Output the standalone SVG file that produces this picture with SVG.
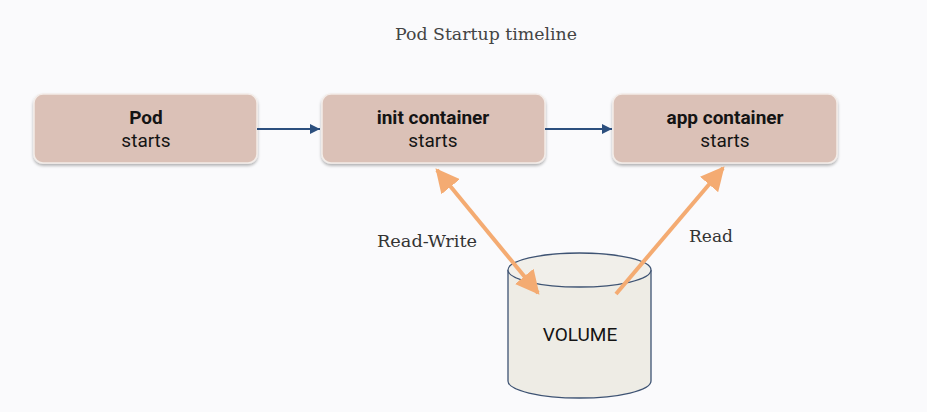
<svg xmlns="http://www.w3.org/2000/svg" width="927" height="412" viewBox="0 0 927 412">
  <defs>
    <filter id="shadow" x="-10%" y="-20%" width="120%" height="150%">
      <feDropShadow dx="0" dy="2" stdDeviation="1.5" flood-color="#000" flood-opacity="0.3"/>
    </filter>
    <marker id="blueHead" viewBox="0 0 10 10" refX="10" refY="5" markerWidth="10" markerHeight="10" markerUnits="userSpaceOnUse" orient="auto">
      <path d="M0,0 L10,5 L0,10 z" fill="#2c4f7e"/>
    </marker>
    <marker id="orangeHead" viewBox="0 0 10 10" refX="9" refY="5" markerWidth="6" markerHeight="6" orient="auto-start-reverse">
      <path d="M0,0 L10,5 L0,10 z" fill="#f4ab72"/>
    </marker>
  </defs>
  <style>
    .box { fill: #dbc1b7; stroke: #f3ece8; stroke-width: 1.5; filter: url(#shadow); }
    .title { font-family: "DejaVu Serif", "Liberation Serif", serif; font-size: 17px; fill: #444; }
    .label { font-family: "DejaVu Serif", "Liberation Serif", serif; font-size: 17px; fill: #333; }
    .head { font-family: Roboto, "Liberation Sans", sans-serif; font-size: 19px; font-weight: bold; fill: #141414; text-anchor: middle; }
    .sub { font-family: Roboto, "Liberation Sans", sans-serif; font-size: 19px; fill: #141414; text-anchor: middle; }
    .flow { stroke: #2c4f7e; stroke-width: 1.8; fill: none; }
    .access { stroke: #f4ab72; stroke-width: 4; fill: none; }
  </style>
  <rect width="927" height="412" fill="#fafafc"/>

  <text class="title" x="395" y="40" textLength="182" lengthAdjust="spacingAndGlyphs">Pod Startup timeline</text>

  <g id="pod">
    <rect class="box" x="34" y="94" width="223" height="69" rx="9"/>
    <text class="head" x="146" y="124">Pod</text>
    <text class="sub" x="146" y="147">starts</text>
  </g>

  <g id="init-container">
    <rect class="box" x="322" y="94" width="223" height="69" rx="9"/>
    <text class="head" x="433" y="124">init container</text>
    <text class="sub" x="433" y="147">starts</text>
  </g>

  <g id="app-container">
    <rect class="box" x="613" y="94" width="224" height="69" rx="9"/>
    <text class="head" x="725" y="124">app container</text>
    <text class="sub" x="725" y="147">starts</text>
  </g>

  <g id="volume">
    <path d="M508,270 L508,381 A71.5,17 0 0 0 651,381 L651,270" fill="#eeece5" stroke="#3e5373" stroke-width="1.3"/>
    <ellipse cx="579.5" cy="270" rx="71.5" ry="17" fill="#f1efea" stroke="#3e5373" stroke-width="1.3"/>
    <text x="580" y="341" font-family="Roboto, 'Liberation Sans', sans-serif" font-size="19" fill="#141414" text-anchor="middle">VOLUME</text>
  </g>

  <g id="connectors">
    <line class="flow" x1="257" y1="129" x2="320" y2="129" marker-end="url(#blueHead)"/>
    <line class="flow" x1="545" y1="129" x2="612" y2="129" marker-end="url(#blueHead)"/>
    <line class="access" x1="437" y1="170" x2="538" y2="293" marker-start="url(#orangeHead)" marker-end="url(#orangeHead)"/>
    <line class="access" x1="616" y1="294" x2="723" y2="168" marker-end="url(#orangeHead)"/>
    <text class="label" x="377" y="247" textLength="100" lengthAdjust="spacingAndGlyphs">Read-Write</text>
    <text class="label" x="689" y="242" textLength="44" lengthAdjust="spacingAndGlyphs">Read</text>
  </g>
</svg>
